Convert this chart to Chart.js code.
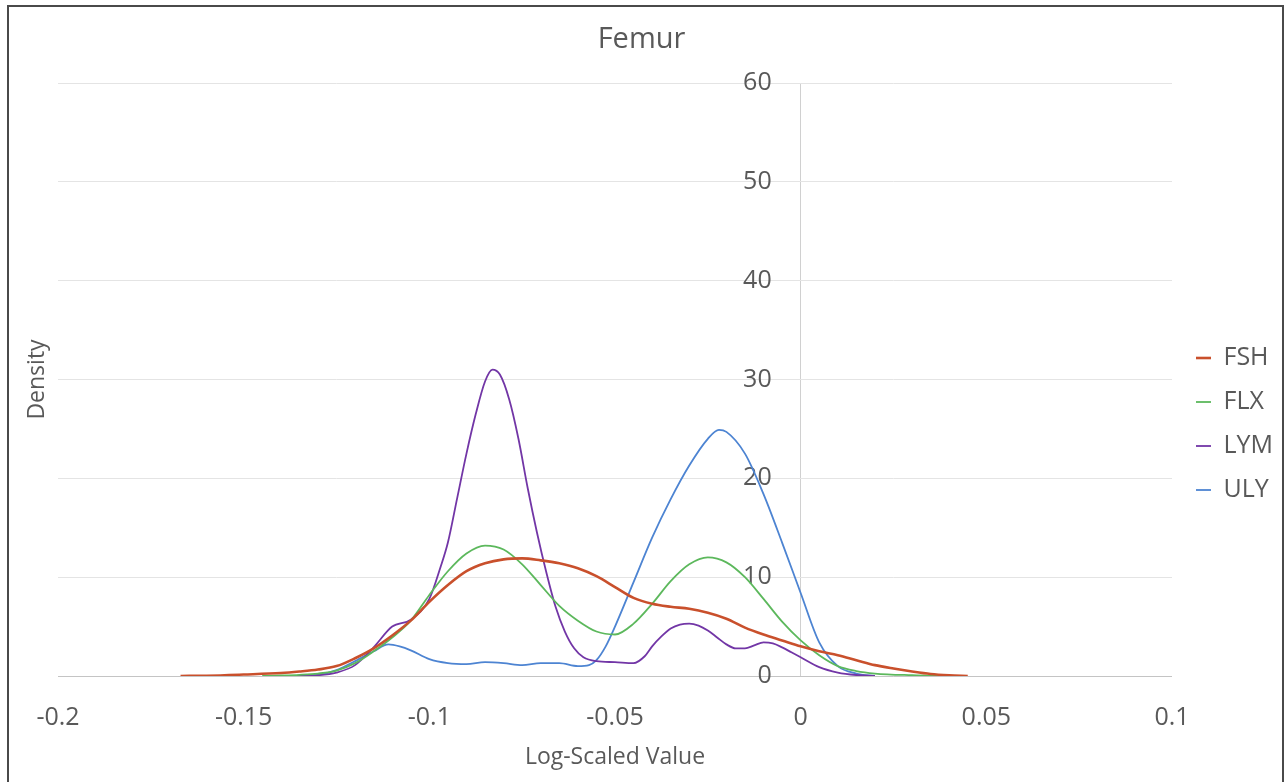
<!DOCTYPE html>
<html>
<head>
<meta charset="utf-8">
<script src="https://cdn.jsdelivr.net/npm/chart.js@4.4.1/dist/chart.umd.min.js"></script>
<style>
  html, body { margin: 0; padding: 0; background: #ffffff; overflow: hidden; }
  #wrap { position: relative; width: 1285px; height: 782px; }
  #frame { position: absolute; left: 7px; top: 5px; width: 1273px; height: 800px;
           border: 2px solid #4a4a4a; border-bottom: none; pointer-events: none; }
</style>
</head>
<body>
<div id="wrap">
  <canvas id="c" width="1285" height="782"></canvas>
  <div id="frame"></div>
</div>
<script>
// ---- data ----
const chartTitle = 'Femur';
const xAxisTitle = 'Log-Scaled Value';
const yAxisTitle = 'Density';
const seriesNames = ['FSH', 'FLX', 'LYM', 'ULY'];
const xTickLabels = ['-0.2', '-0.15', '-0.1', '-0.05', '0', '0.05', '0.1'];
const yTickLabels = ['0', '10', '20', '30', '40', '50', '60'];

const fshX = [-0.167, -0.16, -0.15, -0.14, -0.135, -0.13, -0.125, -0.12, -0.115, -0.11, -0.105, -0.1, -0.095, -0.09, -0.085, -0.08, -0.075, -0.07, -0.065, -0.06, -0.055, -0.05, -0.045, -0.04, -0.035, -0.03, -0.025, -0.02, -0.015, -0.01, -0.005, 0, 0.005, 0.01, 0.015, 0.02, 0.025, 0.03, 0.035, 0.04, 0.045];
const fshY = [0, 0.03, 0.15, 0.3, 0.45, 0.65, 1.0, 1.8, 2.8, 4.1, 5.6, 7.5, 9.2, 10.6, 11.4, 11.8, 11.9, 11.7, 11.4, 10.9, 10.1, 9.0, 7.9, 7.3, 7.0, 6.8, 6.4, 5.8, 4.9, 4.2, 3.6, 3.0, 2.5, 2.1, 1.6, 1.1, 0.75, 0.45, 0.2, 0.07, 0];

const flxX = [-0.145, -0.14, -0.135, -0.13, -0.125, -0.12, -0.115, -0.11, -0.105, -0.1, -0.095, -0.09, -0.085, -0.08, -0.075, -0.07, -0.065, -0.06, -0.055, -0.05, -0.045, -0.04, -0.035, -0.03, -0.025, -0.02, -0.015, -0.01, -0.005, 0, 0.005, 0.01, 0.015, 0.02, 0.03, 0.04];
const flxY = [0, 0.05, 0.12, 0.25, 0.55, 1.3, 2.5, 3.9, 5.6, 8.2, 10.6, 12.4, 13.2, 12.8, 11.3, 9.2, 7.1, 5.6, 4.5, 4.2, 5.3, 7.3, 9.6, 11.3, 12.0, 11.5, 10.0, 7.8, 5.5, 3.6, 2.1, 1.0, 0.5, 0.25, 0.08, 0];

const lymX = [-0.14, -0.135, -0.13, -0.125, -0.12, -0.115, -0.11, -0.105, -0.1, -0.097, -0.095, -0.0925, -0.09, -0.0875, -0.085, -0.083, -0.081, -0.0785, -0.076, -0.0735, -0.071, -0.0685, -0.066, -0.0635, -0.061, -0.0585, -0.055, -0.05, -0.045, -0.042, -0.04, -0.0375, -0.035, -0.0325, -0.03, -0.0275, -0.025, -0.0225, -0.02, -0.0175, -0.015, -0.0125, -0.01, -0.0075, -0.005, -0.0025, 0, 0.005, 0.01, 0.015, 0.02];
const lymY = [0, 0.02, 0.08, 0.35, 1.1, 2.9, 5.0, 5.7, 7.8, 11, 13.5, 18, 22.5, 26.5, 29.8, 31.0, 30.5, 28, 24, 19, 14.5, 10.5, 7, 4.5, 2.8, 1.9, 1.5, 1.4, 1.3, 2.0, 3.0, 4.0, 4.8, 5.2, 5.3, 5.1, 4.6, 3.9, 3.2, 2.8, 2.8, 3.1, 3.4, 3.3, 2.9, 2.4, 1.9, 0.9, 0.35, 0.1, 0];

const ulyX = [-0.135, -0.13, -0.125, -0.12, -0.115, -0.111, -0.108, -0.105, -0.1, -0.095, -0.09, -0.085, -0.08, -0.075, -0.07, -0.065, -0.06, -0.057, -0.055, -0.0525, -0.05, -0.045, -0.04, -0.035, -0.03, -0.025, -0.022, -0.02, -0.015, -0.01, -0.005, 0, 0.005, 0.01, 0.015, 0.02];
const ulyY = [0, 0.1, 0.6, 1.5, 2.5, 3.2, 3.0, 2.6, 1.7, 1.3, 1.2, 1.4, 1.3, 1.1, 1.3, 1.3, 1.0, 1.1, 1.6, 3.0, 5.0, 9.5, 14.0, 17.9, 21.3, 24.0, 24.9, 24.7, 22.5, 18.4, 13.5, 8.4, 3.4, 1.0, 0.25, 0];

// ---- chart ----
const seriesX = [fshX, flxX, lymX, ulyX];
const seriesY = [fshY, flxY, lymY, ulyY];
const seriesColors = ['#c9502c', '#5cb85c', '#7236a6', '#4d84d2'];
const seriesWidths = [2.6, 1.8, 1.8, 1.8];

const datasets = seriesNames.map((name, s) => ({
  label: name,
  data: seriesX[s].map((x, i) => ({ x: x, y: seriesY[s][i] })),
  borderColor: seriesColors[s],
  backgroundColor: seriesColors[s],
  borderWidth: seriesWidths[s],
  pointRadius: 0,
  pointHoverRadius: 0,
  fill: false,
  cubicInterpolationMode: 'monotone',
  xAxisID: 'x',
  yAxisID: 'y'
}));

const textColor = '#595959';
const FONT = "'Open Sans', 'DejaVu Sans', sans-serif";
Chart.defaults.font.family = FONT;
Chart.defaults.color = textColor;

// y tick labels sit a little to the left of the x = 0 line (value on the x scale)
const yLabelAnchor = -0.0078;

new Chart(document.getElementById('c'), {
  type: 'line',
  data: { datasets: datasets },
  options: {
    responsive: false,
    animation: false,
    devicePixelRatio: 1,
    layout: { padding: { left: 0, right: 2, top: 0, bottom: 0 } },
    plugins: {
      title: {
        display: true, text: chartTitle, color: textColor,
        font: { size: 29, weight: 'normal', family: FONT },
        padding: { top: 22.6, bottom: 25.6 }
      },
      legend: {
        position: 'right', align: 'center',
        title: { display: true, text: ' ', font: { size: 10 }, padding: { top: 0, bottom: 54 } },
        labels: {
          usePointStyle: true, pointStyle: 'line', pointStyleWidth: 15,
          color: textColor, font: { size: 25, family: FONT }, padding: 19
        }
      },
      tooltip: { enabled: false }
    },
    scales: {
      x: {
        type: 'linear', position: 'bottom', min: -0.2, max: 0.1,
        afterFit: (s) => { s.height = 106; },
        ticks: {
          stepSize: 0.05, padding: 27, maxRotation: 0, autoSkip: false,
          color: textColor, font: { size: 25, family: FONT },
          callback: (v, i) => xTickLabels[i]
        },
        grid: {
          display: true, drawTicks: false, lineWidth: 1,
          color: (ctx) => (ctx.tick && Math.abs(ctx.tick.value) < 1e-9) ? '#d0d0d0' : 'rgba(0,0,0,0)'
        },
        border: { display: true, color: '#c4c4c4', width: 1 },
        title: {
          display: true, text: xAxisTitle, color: textColor,
          font: { size: 23, family: FONT }, padding: { top: 0, bottom: 11 }
        }
      },
      y: {
        type: 'linear', axis: 'y', position: { x: yLabelAnchor }, min: 0, max: 60,
        ticks: {
          stepSize: 10, padding: 0, color: textColor, font: { size: 25, family: FONT },
          callback: (v, i) => yTickLabels[i]
        },
        grid: { color: '#e4e4e4', drawTicks: false, lineWidth: 1 },
        border: { display: false }
      },
      yTitle: {
        type: 'linear', axis: 'y', position: 'left', min: 0, max: 1,
        afterFit: (s) => { s.width = 58; },
        ticks: { display: false },
        grid: { display: false, drawTicks: false },
        border: { display: false },
        title: {
          display: true, text: yAxisTitle, color: textColor,
          font: { size: 23, family: FONT }, padding: { top: 24, bottom: 0 }
        }
      },
      ySpace: {
        type: 'linear', axis: 'y', position: 'right', min: 0, max: 1,
        afterFit: (s) => { s.width = 5; },
        ticks: { display: false },
        grid: { display: false, drawTicks: false },
        border: { display: false }
      }
    }
  }
});
</script>
</body>
</html>
